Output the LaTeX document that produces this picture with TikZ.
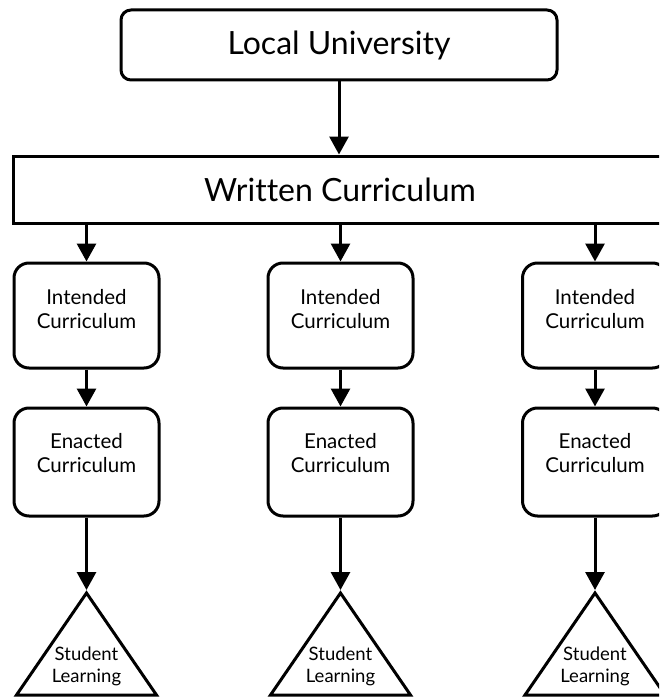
\documentclass[tikz,border=0pt]{standalone}
\usepackage{fontspec}
\setmainfont{Lato}[Ligatures=NoCommon]
\usetikzlibrary{arrows.meta}
\begin{document}
\begin{tikzpicture}[x=1pt,y=-1pt,
  line width=3pt,
  bigbox/.style={draw,rounded corners=10pt,minimum width=436pt,minimum height=70pt,inner sep=0pt,font=\fontsize{32}{36}\selectfont},
  widebox/.style={draw,minimum width=654pt,minimum height=67pt,inner sep=0pt,font=\fontsize{32}{36}\selectfont},
  stagebox/.style={draw,rounded corners=15pt,minimum width=145pt,inner sep=0pt},
  stagetext/.style={align=center,font=\fontsize{20.5}{24}\selectfont},
  learntext/.style={align=center,font=\fontsize{18.5}{22}\selectfont},
  arr/.style={-{Triangle[width=19pt,length=18pt]}},
]
\path[use as bounding box] (0,0) rectangle (659,698);
\clip (0,0) rectangle (659,698);

% top level
\node[bigbox] (uni) at (339,45) {Local University};
\node[widebox] (wc) at (340,189.5) {Written Curriculum};
\draw[arr] (uni.south) -- (uni.south |- wc.north);

% three columns of stages
\foreach \i/\x in {1/86.5,2/340.5,3/595}{
  \node[stagebox,minimum height=105pt,
        label={[stagetext,yshift=6pt]center:Intended\\Curriculum}] (int\i) at (\x,315.5) {};
  \node[stagebox,minimum height=108pt,
        label={[stagetext,yshift=9pt]center:Enacted\\Curriculum}] (ena\i) at (\x,462) {};
  \coordinate (apex\i) at (\x,593);
  \draw[line join=miter] (apex\i) -- ++(-70,102) -- ++(140,0) -- cycle;
  \node[learntext] (sl\i) at (\x,666.5) {Student\\Learning};
  \draw[arr] (int\i.north |- wc.south) -- (int\i.north);
  \draw[arr] (int\i.south) -- (ena\i.north);
  \draw[arr,shorten >=3pt] (ena\i.south) -- (apex\i);
}
\end{tikzpicture}
\end{document}
